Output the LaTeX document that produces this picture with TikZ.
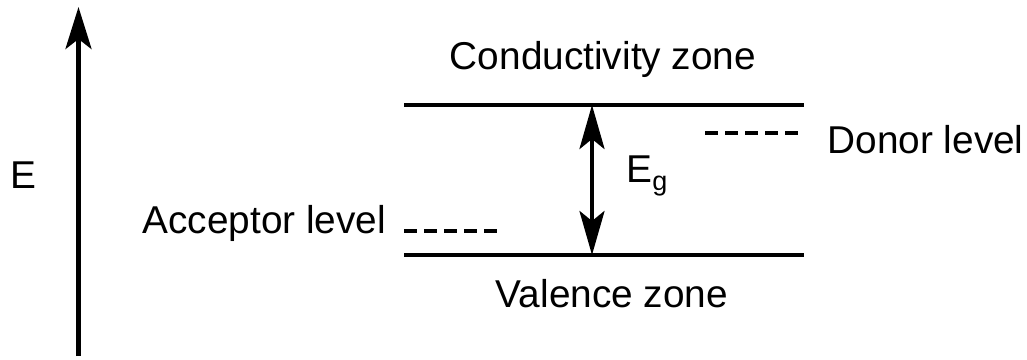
\documentclass[tikz,border=0pt]{standalone}
\usepackage{fontspec}
\setmainfont{Liberation Sans}
\usetikzlibrary{arrows.meta}

\begin{document}
\begin{tikzpicture}[x=0.5pt, y=-0.5pt,
  band/.style={line width=2.25pt},
  level/.style={line width=2.2pt, dash pattern=on 6.5pt off 3.5pt},
  lbl/.style={inner sep=0pt, font=\fontsize{19.4}{22}\selectfont},
  earr/.style={line width=2.3pt, -{Stealth[length=21pt, width=13pt, inset=5pt]}},
  garr/.style={line width=2.1pt, {Stealth[length=22pt, width=12.5pt, inset=5pt]}-{Stealth[length=22pt, width=12.5pt, inset=5pt]}}
]
\useasboundingbox (0,0) rectangle (1027,359);

% Energy axis
\coordinate (ebot) at (78.5,356);
\coordinate (etop) at (78.5,7);
\draw[earr] (ebot) -- (etop);
\node[lbl, anchor=base west] (e) at (10,188) {E};

% Bands
\coordinate (cbl) at (404,105);
\coordinate (cbr) at (804,105);
\coordinate (vbl) at (404,255);
\coordinate (vbr) at (804,255);
\draw[band] (cbl) -- (cbr);
\draw[band] (vbl) -- (vbr);
\node[lbl, anchor=base] (cz) at (603,69) {Conductivity zone};
\node[lbl, anchor=base] (vz) at (612,307) {Valence zone};

% Gap
\coordinate (gtop) at (592,105);
\coordinate (gbot) at (592,255);
\draw[garr] (gtop) -- (gbot);
\node[lbl, anchor=base west] (eg) at (626,182)
  {E\raisebox{-4pt}{\fontsize{13.5}{15}\selectfont g}};

% Impurity levels
\coordinate (dl) at (705,133);
\coordinate (dr) at (800,133);
\coordinate (al) at (404,231);
\coordinate (ar) at (499,231);
\draw[level] (dl) -- (dr);
\draw[level] (al) -- (ar);
\node[lbl, anchor=base west] (donor) at (827,153) {Donor level};
\node[lbl, anchor=base west] (acc) at (142,233) {Acceptor level};
\end{tikzpicture}
\end{document}
